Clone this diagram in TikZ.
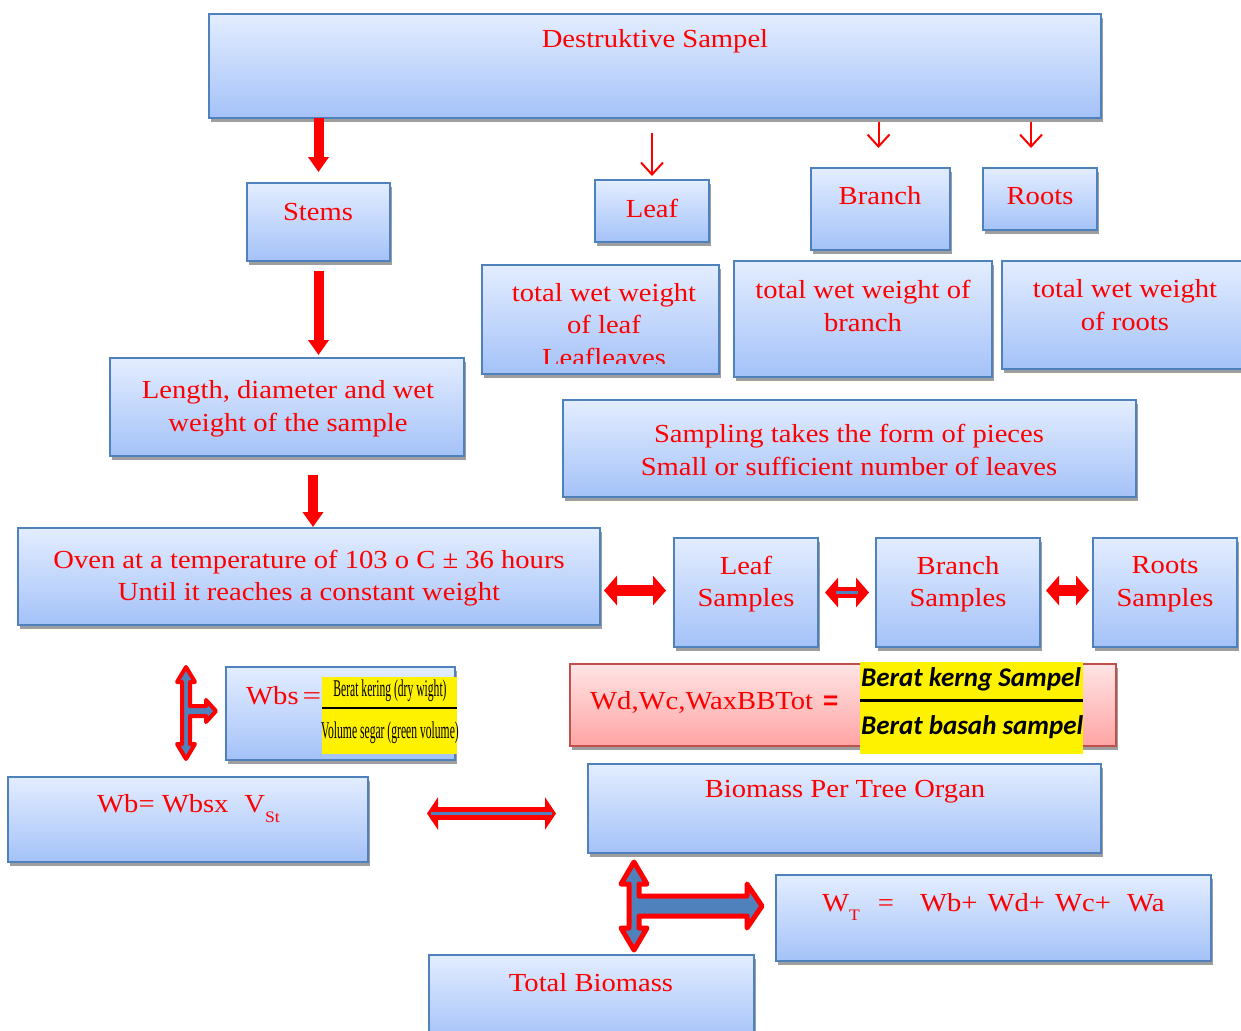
\documentclass[tikz,border=0pt]{standalone}
\usepackage{fontspec}
\setmainfont{Liberation Serif}[FakeStretch=1.1]
\newfontfamily\carl{Carlito}
\usepackage{graphicx}
\usetikzlibrary{shadows,arrows.meta,calc}
\definecolor{bxborder}{HTML}{4F81BD}
\definecolor{bxtop}{HTML}{E3EDFF}
\definecolor{bxbot}{HTML}{A4C2F8}
\definecolor{pkborder}{HTML}{C0504D}
\definecolor{pktop}{HTML}{FFE4E4}
\definecolor{pkbot}{HTML}{FFA4A4}
\definecolor{arrowblue}{HTML}{4F81BD}
\definecolor{txtred}{HTML}{FF0000}
\begin{document}
\begin{tikzpicture}[x=1pt,y=-1pt,
  box/.style={draw=bxborder, line width=1.6pt, top color=bxtop, bottom color=bxbot,
    inner sep=0pt, outer sep=0pt, anchor=north west,
    drop shadow={fill=black!38, opacity=1, shadow xshift=2pt, shadow yshift=-4pt}},
  pinkbox/.style={box, draw=pkborder, top color=pktop, bottom color=pkbot},
  txt/.style={text=txtred, font=\fontsize{26}{32.5}\selectfont, align=center, inner sep=0pt},
  bigdown/.style={draw=txtred, line width=10pt, -{Triangle[width=20pt,length=15pt]}},
  thindown/.style={draw=txtred, line width=2pt, -{Straight Barb[length=12pt,width=22pt]}},
  dbl/.style={draw=txtred, line width=11pt, {Triangle[width=29pt,length=13pt]}-{Triangle[width=29pt,length=13pt]}},
  dblwide/.style={draw=txtred, line width=13pt, {Triangle[width=32pt,length=11pt]}-{Triangle[width=32pt,length=11pt]}},
  blueline/.style={draw=arrowblue, line width=3pt},
  tarrow/.style={fill=arrowblue, draw=txtred, line join=round},
  yel/.style={fill=yellow, inner sep=0pt, outer sep=0pt, anchor=north west}
]
\useasboundingbox (0,0) rectangle (1241,1030);
\fill[white] (0,0) rectangle (1241,1030);

% boxes
\node[box, minimum width=892, minimum height=104] (top) at (209,14) {};
\node[box, minimum width=143, minimum height=78] (stems) at (247,183) {};
\node[box, minimum width=114, minimum height=62] (leaf) at (595,180) {};
\node[box, minimum width=139, minimum height=82] (branch) at (811,168) {};
\node[box, minimum width=114, minimum height=62] (roots) at (983,168) {};
\node[box, minimum width=237, minimum height=109] (twl) at (482,265) {};
\node[box, minimum width=258, minimum height=116] (twb) at (734,261) {};
\node[box, minimum width=241, minimum height=108] (twr) at (1002,261) {};
\node[box, minimum width=354, minimum height=98] (len) at (110,358) {};
\node[box, minimum width=573, minimum height=97] (samp) at (563,400) {};
\node[box, minimum width=582, minimum height=97] (oven) at (18,528) {};
\node[box, minimum width=144, minimum height=109] (ls) at (674,538) {};
\node[box, minimum width=164, minimum height=109] (bs) at (876,538) {};
\node[box, minimum width=144, minimum height=109] (rs) at (1093,538) {};
\node[box, minimum width=229, minimum height=93] (wbs) at (226,667) {};
\node[pinkbox, minimum width=546, minimum height=82] (wd) at (570,664) {};
\node[box, minimum width=360, minimum height=85] (wb) at (8,777) {};
\node[box, minimum width=513, minimum height=89] (bio) at (588,764) {};
\node[box, minimum width=435, minimum height=86] (wt) at (776,875) {};
\node[box, minimum width=325, minimum height=85] (tot) at (429,955) {};

% texts
\node[txt] (toptxt) at (655,41) {Destruktive Sampel};
\node[txt] (stemstxt) at (318,212) {Stems};
\node[txt] (leaftxt) at (652,208) {Leaf};
\node[txt] (branchtxt) at (880,196) {Branch};
\node[txt] (rootstxt) at (1040,196) {Roots};
\begin{scope}
  \clip (483,266) rectangle (718,363);
  \node[txt, anchor=north] (twltxt) at (604,283) {total wet weight\\of leaf\\Leafleaves};
\end{scope}
\node[txt] (twbtxt) at (863,306) {total wet weight of\\branch};
\node[txt] (twrtxt) at (1125,305) {total wet weight\\of roots};
\node[txt] (lentxt) at (288,409) {Length, diameter and wet\\weight of the sample};
\node[txt] (samptxt) at (849,450) {Sampling takes the form of pieces\\Small or sufficient number of leaves};
\node[txt] (oventxt) at (309,578) {Oven at a temperature of 103 o C ± 36 hours\\Until it reaches a constant weight};
\node[txt] (lstxt) at (746,584) {Leaf\\Samples};
\node[txt] (bstxt) at (958,584) {Branch\\Samples};
\node[txt] (rstxt) at (1165,584) {Roots\\Samples};
\node[txt] (biotxt) at (845,792) {Biomass Per Tree Organ};
\node[txt] (tottxt) at (591,983) {Total Biomass};

% Wbs formula
\node[yel, minimum width=135, minimum height=77] (wbsfrac) at (322,677) {};
\node[txt, anchor=base west] (wbstxt) at (246,704) {Wbs\hspace{4pt}\scalebox{1.15}[1]{=}};
\draw[black, line width=2pt] (wbsfrac.west) ++(0,-8) coordinate (fl1) -- (fl1 -| wbsfrac.east);
\node[inner sep=0pt] (wbsnum) at (390,691) {\scalebox{0.44}[1]{\fontsize{24}{24}\selectfont Berat kering (dry wight)}};
\node[inner sep=0pt] (wbsden) at (390,733) {\scalebox{0.44}[1]{\fontsize{24}{24}\selectfont Volume segar (green volume)}};

% Wd formula
\node[txt, anchor=base west] (wdtxt) at (590,709) {Wd,Wc,WaxBBTot\hspace{10pt}{\fontspec{Liberation Sans}\bfseries =}};
\node[yel, minimum width=223, minimum height=92] (wdfrac) at (860,662) {};
\begin{scope}
  \clip (860,662) rectangle (1083,754);
  \draw[black, line width=3pt] (860,700) -- (1083,700);
  \node[inner sep=0pt, anchor=base west] (wdnum) at (861,686) {\carl\bfseries\itshape\fontsize{27}{27}\selectfont Berat kerng Sampel};
  \node[inner sep=0pt, anchor=base west] (wdden) at (861,734) {\carl\bfseries\itshape\fontsize{27}{27}\selectfont Berat basah sampel};
\end{scope}

% Wb formula
\node[txt, anchor=base west] (wbtxt) at (97,812) {Wb= Wbsx\hspace{16pt}V\raisebox{-10pt}{\fontsize{16}{16}\selectfont St}};

% WT formula
\node[txt, anchor=base west] (wttxt) at (822,911) {W\raisebox{-9pt}{\fontsize{16}{16}\selectfont T}\hspace{18pt}=\hspace{26pt}Wb+\hspace{3pt} Wd+\hspace{3pt} Wc+\hspace{16pt}Wa};

% connectors
\draw[bigdown, shorten >=11pt] (stems.north |- top.south) -- (stems.north);
\draw[thindown, shorten <=15pt, shorten >=4pt] (leaf.north |- top.south) -- (leaf.north);
\draw[thindown, shorten <=4pt, shorten >=20pt] ([xshift=-2pt]branch.north |- top.south) -- ([xshift=-2pt]branch.north);
\draw[thindown, shorten <=4pt, shorten >=20pt] ([xshift=-9pt]roots.north |- top.south) -- ([xshift=-9pt]roots.north);
\draw[bigdown, shorten <=10pt, shorten >=3pt] (stems.south) -- (stems.south |- len.north);
\draw[bigdown, shorten <=19pt, shorten >=1pt] ([xshift=4pt]oven.north |- len.south) -- ([xshift=4pt]oven.north);

\draw[dbl, shorten <=4pt, shorten >=8pt] ([yshift=2pt]oven.east |- ls.west) -- ([yshift=2pt]ls.west);
\draw[dbl, shorten <=7pt, shorten >=7pt] (ls.east) -- (bs.west);
\draw[blueline, shorten <=18pt, shorten >=18pt] (ls.east) -- (bs.west);
\draw[dbl, shorten <=6pt, shorten >=4pt] ([yshift=2pt]bs.east) -- ([yshift=2pt]rs.west);

\draw[dblwide, shorten <=59pt, shorten >=32pt] ([yshift=6pt]wb.east) -- ([yshift=6pt]wb.east -| bio.west);
\draw[blueline, shorten <=63pt, shorten >=36pt] ([yshift=6pt]wb.east) -- ([yshift=6pt]wb.east -| bio.west);

% T-shaped arrows
\draw[tarrow, line width=4pt] (186,667) -- (195,682) -- (190,682) -- (190,706) -- (206,706) -- (206,700) -- (216,711) -- (206,722) -- (206,716) -- (190,716) -- (190,744) -- (195,744) -- (186,759) -- (177,744) -- (182,744) -- (182,682) -- (177,682) -- cycle;
\draw[tarrow, line width=5pt] (634,862) -- (647,884) -- (639,884) -- (639,896) -- (747,896) -- (747,884) -- (762,906) -- (747,928) -- (747,916) -- (639,916) -- (639,928) -- (647,928) -- (634,950) -- (621,928) -- (629,928) -- (629,884) -- (621,884) -- cycle;
\end{tikzpicture}
\end{document}
